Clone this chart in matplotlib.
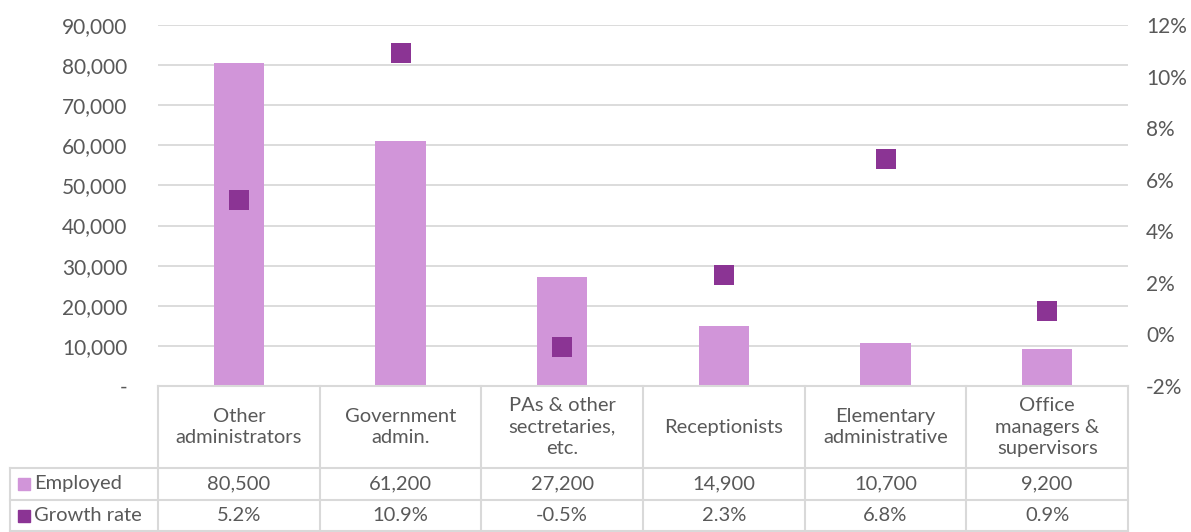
import numpy as np
import matplotlib.pyplot as plt
from matplotlib.ticker import FuncFormatter

categories = ["Other\nadministrators", "Government\nadmin.", "PAs & other\nsectretaries,\netc.",
              "Receptionists", "Elementary\nadministrative", "Office\nmanagers &\nsupervisors"]
employed = [80500, 61200, 27200, 14900, 10700, 9200]
growth = [5.2, 10.9, -0.5, 2.3, 6.8, 0.9]
employed_labels = ["80,500", "61,200", "27,200", "14,900", "10,700", "9,200"]
growth_labels = ["5.2%", "10.9%", "-0.5%", "2.3%", "6.8%", "0.9%"]

bar_col = "#D195D9"
mark_col = "#8B3494"
txt_col = "#595959"
line_col = "#D9D9D9"

plt.rcParams['font.family'] = ['Lato', 'DejaVu Sans']

W, H = 1191, 532
fig = plt.figure(figsize=(W / 100, H / 100), dpi=100)
x0, x1, ytop, ybot = 158, 1128, 25, 386
ax = fig.add_axes([x0 / W, 1 - ybot / H, (x1 - x0) / W, (ybot - ytop) / H])
n = len(categories)
x = np.arange(n)
ax.bar(x, employed, width=0.31, color=bar_col, zorder=2)
ax.set_xlim(-0.5, n - 0.5)
ax.set_ylim(0, 90000)
ax.set_yticks(np.arange(0, 90001, 10000))
ax.yaxis.set_major_formatter(FuncFormatter(lambda v, p: "-" if v == 0 else f"{int(v):,}"))
ax.grid(axis="y", color=line_col, lw=1.3, zorder=0)
ax.set_xticks([])
for s in ["top", "right", "left"]:
    ax.spines[s].set_visible(False)
ax.spines["bottom"].set_color(line_col)
ax.spines["bottom"].set_linewidth(1.5)
ax.tick_params(axis="y", length=0, pad=22, labelsize=15, labelcolor=txt_col)

ax2 = ax.twinx()
ax2.scatter(x, growth, marker="s", s=210, color=mark_col, zorder=3, linewidths=0)
ax2.set_ylim(-2, 12)
ax2.set_yticks(np.arange(-2, 13, 2))
ax2.yaxis.set_major_formatter(FuncFormatter(lambda v, p: f"{int(v)}%"))
for s in ["top", "right", "left", "bottom"]:
    ax2.spines[s].set_visible(False)
ax2.tick_params(axis="y", length=0, pad=13, labelsize=15, labelcolor=txt_col)

# data table below the plot
def fx(px):
    return px / W

def fy(py):
    return 1 - py / H

slot = (x1 - x0) / n
r1, r2, r3 = 468, 500, 531
lk = dict(color=line_col, lw=1.5, transform=fig.transFigure)
for i in range(n + 1):
    xp = x0 + i * slot
    fig.add_artist(plt.Line2D([fx(xp), fx(xp)], [fy(ybot), fy(r3)], **lk))
fig.add_artist(plt.Line2D([fx(10), fx(10)], [fy(r1), fy(r3)], **lk))
for yp in [r1, r2, r3]:
    fig.add_artist(plt.Line2D([fx(10), fx(x1)], [fy(yp), fy(yp)], **lk))

fs = 14.5
for i in range(n):
    cx = x0 + (i + 0.5) * slot
    fig.text(fx(cx), fy((ybot + r1) / 2), categories[i], ha="center", va="center",
             fontsize=fs, color=txt_col, linespacing=1.3)
    fig.text(fx(cx), fy((r1 + r2) / 2), employed_labels[i], ha="center", va="center",
             fontsize=fs, color=txt_col)
    fig.text(fx(cx), fy((r2 + r3) / 2), growth_labels[i], ha="center", va="center",
             fontsize=fs, color=txt_col)

for (label, col, yc) in [("Employed", bar_col, (r1 + r2) / 2), ("Growth rate", mark_col, (r2 + r3) / 2)]:
    fig.patches.append(plt.Rectangle((fx(18), fy(yc + 6)), 12 / W, 12 / H, color=col,
                                     transform=fig.transFigure))
    fig.text(fx(34), fy(yc), label, ha="left", va="center", fontsize=fs, color=txt_col)

fig.savefig("out.png", dpi=100)
